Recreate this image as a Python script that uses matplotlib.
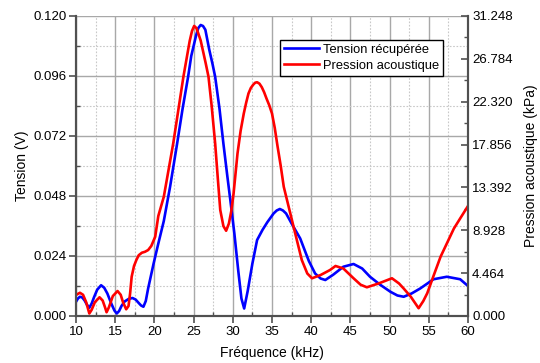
import matplotlib
matplotlib.use("Agg")
import matplotlib.pyplot as plt
from matplotlib.ticker import MultipleLocator, FixedLocator

plt.rcParams['font.family'] = ['Liberation Sans', 'DejaVu Sans']

# Tension récupérée (V)
freq_blue = [10.0, 10.25, 10.5, 10.8, 11.1, 11.4, 11.7, 12.0, 12.3, 12.7, 13.2, 13.6, 14.0, 14.5,
             14.9, 15.2, 15.5, 15.8, 16.2, 16.7, 17.2, 17.6, 18.0, 18.3, 18.6, 18.9,
             19.2, 19.9, 20.5, 21.2, 22.0, 22.9, 23.6, 24.3, 24.7, 25.0, 25.3, 25.6, 25.9, 26.2,
             26.5, 27.0, 27.4, 27.75, 28.3, 28.8, 29.3, 29.7, 30.2, 30.7, 31.1, 31.45, 31.9, 32.5,
             33.1, 33.8, 34.4, 35.2, 35.6, 36.0, 36.4, 36.8, 37.5, 38.6, 39.0, 39.7, 40.5, 41.2,
             41.8, 42.8, 44.1, 45.4, 46.5, 47.5, 48.8, 50.1, 51.0, 51.8, 52.8, 53.9, 55.6, 57.3,
             59.0, 60.0]
tension = [0.0057, 0.0070, 0.0077, 0.0074, 0.0062, 0.0045, 0.0033, 0.0050, 0.0075, 0.0105, 0.0123,
           0.0113, 0.0090, 0.0050, 0.0022, 0.0010, 0.0020, 0.0040, 0.0058, 0.0068, 0.0072, 0.0066,
           0.0052, 0.0042, 0.0037, 0.0060,
           0.0110, 0.0210, 0.0290, 0.0380, 0.0517, 0.0690, 0.0830, 0.0957, 0.1040, 0.1080, 0.1120,
           0.1152, 0.1164, 0.1160, 0.1145, 0.1065, 0.1010, 0.0957, 0.0830, 0.0690, 0.0560, 0.0460,
           0.0330, 0.0180, 0.0070, 0.0030, 0.0100, 0.0210, 0.0304, 0.0345, 0.0375, 0.0410, 0.0422,
           0.0428, 0.0422, 0.0410, 0.0370, 0.0310, 0.0277, 0.0220, 0.0170, 0.0150, 0.0144, 0.0165,
           0.0197, 0.0208, 0.0190, 0.0157, 0.0125, 0.0097, 0.0082, 0.0077, 0.0090, 0.0110, 0.0147,
           0.0157, 0.0147, 0.0120]

# Pression acoustique (kPa)
freq_red = [10.0, 10.5, 10.9, 11.3, 11.7, 12.0, 12.4, 13.0, 13.4, 13.7, 13.9, 14.2, 14.7, 15.3,
            15.7, 16.0, 16.4, 16.7, 16.9, 17.1, 17.4, 17.7, 18.0, 18.4, 18.8, 19.2, 19.6, 20.1,
            20.5, 21.2, 22.4, 23.7, 24.5, 24.8, 25.07, 25.35, 25.6, 25.9, 26.2, 26.55, 26.9, 27.3,
            27.75, 28.1, 28.4, 28.8, 29.15, 29.5, 29.8, 30.1, 30.6, 31.0, 31.4, 31.7, 32.0, 32.3,
            32.6, 32.85, 33.1, 33.4, 33.7, 34.0, 34.3, 34.65, 35.0, 35.35, 35.7, 36.1, 36.5, 37.75,
            38.8, 39.5, 40.1, 41.2, 42.4, 43.1, 44.1, 45.4, 46.3, 47.1, 48.6, 50.3, 51.2, 51.8,
            52.7, 53.7, 54.3, 54.8, 55.6, 56.5, 58.2, 59.0, 60.0]
pression = [2.19, 2.42, 2.21, 1.43, 0.26, 0.65, 1.43, 1.95, 1.61, 0.91, 0.39, 0.91, 2.08, 2.60,
            2.21, 1.43, 0.70, 1.04, 2.34, 4.09, 5.21, 5.83, 6.33, 6.59, 6.69, 6.87, 7.29, 8.25,
            10.42, 12.42, 17.97, 24.92, 28.64, 29.70, 30.21, 30.00, 29.43, 28.70, 27.60, 26.30,
            24.92, 21.90, 17.97, 14.20, 11.04, 9.37, 8.88, 9.63, 10.90, 12.76, 16.93, 19.30, 21.09,
            22.20, 23.18, 23.75, 24.09, 24.30, 24.35, 24.20, 23.83, 23.30, 22.65, 21.95, 21.09,
            19.60, 17.71, 15.70, 13.46, 9.30, 5.83, 4.43, 3.93, 4.27, 4.79, 5.21, 4.95, 3.93, 3.26,
            2.99, 3.39, 3.93, 3.39, 2.86, 2.01, 0.81, 1.56, 2.37, 4.17, 6.17, 9.11, 10.16, 11.46]

left_ticks = [0.000, 0.024, 0.048, 0.072, 0.096, 0.120]
right_ticks = [0.000, 4.464, 8.928, 13.392, 17.856, 22.320, 26.784, 31.248]
x_ticks = [10, 15, 20, 25, 30, 35, 40, 45, 50, 55, 60]

fig = plt.figure(figsize=(5.4, 3.63), dpi=100)
ax = fig.add_axes([76/540, 1-316/363, 392/540, 300/363])
ax2 = ax.twinx()

spine_col = '#505050'
ax.plot(freq_blue, tension, color='#0000FF', lw=1.9, label='Tension récupérée')
ax2.plot(freq_red, pression, color='#FF0000', lw=1.9, label='Pression acoustique')

ax.set_xlim(10, 60)
ax.set_ylim(0, 0.12)
ax2.set_ylim(0, 31.248)

ax.xaxis.set_major_locator(FixedLocator(x_ticks))
ax.xaxis.set_minor_locator(MultipleLocator(2.5))
ax.yaxis.set_major_locator(FixedLocator(left_ticks))
ax.yaxis.set_minor_locator(MultipleLocator(0.012))
ax.set_yticklabels([f"{v:.3f}" for v in left_ticks])
ax2.yaxis.set_major_locator(FixedLocator(right_ticks))
ax2.yaxis.set_minor_locator(MultipleLocator(2.232))
ax2.set_yticklabels([f"{v:.3f}" for v in right_ticks])

ax.grid(True, which='major', color='#a8a8a8', lw=1.0, ls='-')
ax.grid(True, which='minor', color='#c8c8c8', lw=0.8, ls=(0, (1.5, 1.5)))
ax.set_axisbelow(True)

for a in (ax, ax2):
    a.spines['top'].set_visible(False)
    for s in ('left', 'right', 'bottom'):
        a.spines[s].set_color(spine_col)
        a.spines[s].set_linewidth(1.5)

ax.tick_params(which='major', direction='out', length=5, width=1.2, color=spine_col,
               labelsize=9.5, pad=2)
ax.tick_params(which='minor', direction='in', length=3, width=1.0, color=spine_col)
ax2.tick_params(which='major', direction='in', length=5, width=1.2, color=spine_col,
                labelsize=9.5, pad=3)
ax2.tick_params(which='minor', direction='in', length=3, width=1.0, color=spine_col)

ax.set_xlabel('Fréquence (kHz)', fontsize=10, labelpad=6)
ax.set_ylabel('Tension (V)', fontsize=10, labelpad=3)
ax2.set_ylabel('Pression acoustique (kPa)', fontsize=10, labelpad=8)

h1, l1 = ax.get_legend_handles_labels()
h2, l2 = ax2.get_legend_handles_labels()
leg = ax2.legend(h1 + h2, l1 + l2, loc='upper right', bbox_to_anchor=(0.936, 0.92),
                 borderaxespad=0, fontsize=9.3, frameon=True, fancybox=False,
                 edgecolor='black', framealpha=1, handlelength=2.7, handletextpad=0.3,
                 borderpad=0.3, labelspacing=0.3)
leg.get_frame().set_linewidth(1.0)

fig.savefig('out.png', dpi=100)
